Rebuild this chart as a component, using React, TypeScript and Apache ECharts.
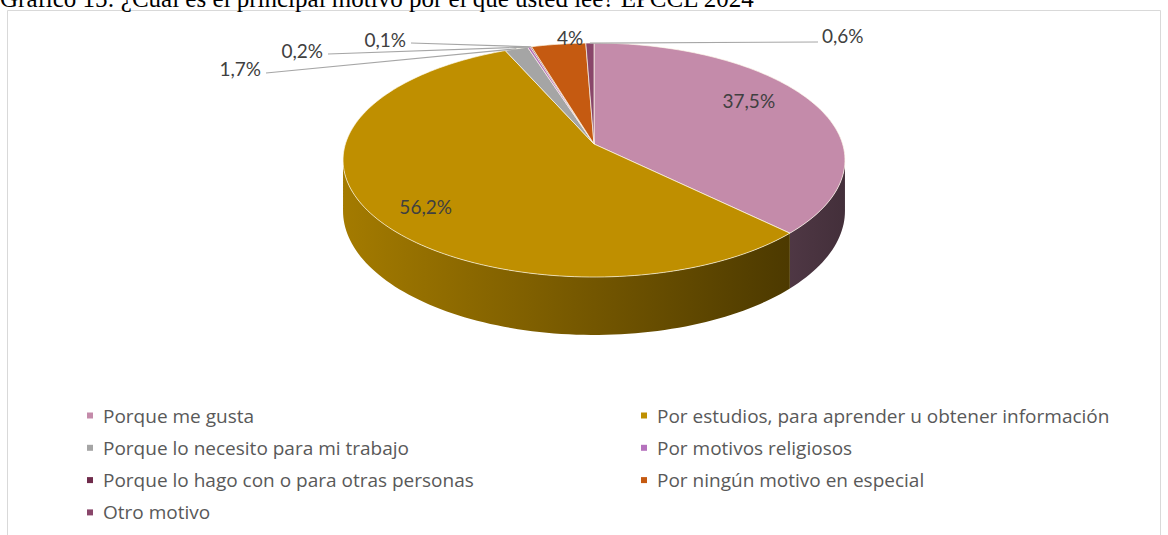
import React, { useEffect, useRef } from "react";
import * as echarts from "echarts";

// ---- data ----
const CATEGORIES = [
  "Porque me gusta",
  "Por estudios, para aprender u obtener información",
  "Porque lo necesito para mi trabajo",
  "Por motivos religiosos",
  "Porque lo hago con o para otras personas",
  "Por ningún motivo en especial",
  "Otro motivo",
];
const VALUES = [37.5, 56.2, 1.7, 0.2, 0.1, 4, 0.6];
const LABELS = ["37,5%", "56,2%", "1,7%", "0,2%", "0,1%", "4%", "0,6%"];
const COLORS = ["#C48BAA", "#BF8F00", "#A5A5A5", "#B572BD", "#6F2B4B", "#C55A11", "#89466A"];
const TITLE = "Gráfico 15: ¿Cuál es el principal motivo por el que usted lee? EPCCL 2024";
const LEGEND_LEFT = [0, 2, 4, 6];
const LEGEND_RIGHT = [1, 3, 5];

// ---- layout (not data) ----
const CX = 594;
const CY = 144;
const RX = 248.6;
const RY = 114.8;
const PERSP = 0.137;
const DEPTH = 50;
const FRONT_L = (Math.acos(-PERSP) * 180) / Math.PI;
const FRONT_R = 360 - FRONT_L;

// label placement relative to the pie centre
const LABEL_LAYOUT: any[] = [
  { mode: "inside", r: 0.7, dx: 0, dy: -14 },
  { mode: "inside", r: 0.79, dx: 4, dy: 8 },
  { mode: "left", ex: -328, ey: -71, ty: -5 },
  { mode: "left", ex: -266, ey: -90, ty: -4 },
  { mode: "left", ex: -183, ey: -101, ty: -4 },
  { mode: "top", ex: -24, ey: -107, ty: 0 },
  { mode: "right", ex: 224, ey: -102, ty: -7 },
];

const TOTAL = VALUES.reduce((a, b) => a + b, 0);
const STARTS = VALUES.map((_, i) => (VALUES.slice(0, i).reduce((a, b) => a + b, 0) / TOTAL) * 360);

function proj(r: number, deg: number, dz = 0): [number, number] {
  const t = (deg * Math.PI) / 180;
  const u = Math.sin(t);
  const v = -Math.cos(t);
  const f = 1 / (1 - PERSP * r * v);
  return [CX + RX * r * u * f, CY + RY * r * v * f + dz * f];
}

function shade(hex: string, k: number) {
  const n = parseInt(hex.slice(1), 16);
  const r = Math.round(((n >> 16) & 255) * k);
  const g = Math.round(((n >> 8) & 255) * k);
  const b = Math.round((n & 255) * k);
  return `rgb(${r},${g},${b})`;
}

function arcPoints(a0: number, a1: number, dz = 0) {
  const n = Math.max(2, Math.ceil((a1 - a0) / 1.5) + 1);
  const pts: [number, number][] = [];
  for (let k = 0; k < n; k++) {
    pts.push(proj(1, a0 + ((a1 - a0) * k) / (n - 1), dz));
  }
  return pts;
}

function renderItem(params: any, api: any) {
  const i = params.dataIndex;
  const val = api.value(0);
  const a0 = STARTS[i];
  const a1 = a0 + (val / TOTAL) * 360;
  const color = COLORS[i];
  const children: any[] = [];

  const s0 = Math.max(a0, FRONT_L);
  const s1 = Math.min(a1, FRONT_R);
  if (s1 > s0) {
    const top = arcPoints(s0, s1, 0);
    const bot = arcPoints(s0, s1, DEPTH).reverse();
    children.push({
      type: "polygon",
      z2: 1,
      shape: { points: top.concat(bot) },
      style: {
        fill: new echarts.graphic.LinearGradient(
          CX - RX - 4, 0, CX + RX + 4, 0,
          [
            { offset: 0, color: shade(color, 0.86) },
            { offset: 0.5, color: shade(color, 0.6) },
            { offset: 1, color: shade(color, 0.34) },
          ],
          true
        ),
        stroke: "none",
      },
    });
  }

  const face = [[CX, CY] as [number, number]].concat(arcPoints(a0, a1, 0));
  children.push({
    type: "polygon",
    z2: 2,
    shape: { points: face },
    style: { fill: color, stroke: "rgba(255,250,235,0.85)", lineWidth: 0.8, lineJoin: "round" },
  });

  const L = LABEL_LAYOUT[i];
  const font = '19px "Lato"';
  const mid = (a0 + a1) / 2;
  if (L.mode === "inside") {
    const p = proj(L.r, mid, 0);
    children.push({
      type: "text",
      z2: 6,
      x: p[0] + L.dx,
      y: p[1] + L.dy,
      style: { text: LABELS[i], fill: "#404040", font, align: "center", verticalAlign: "middle" },
    });
  } else {
    const rim = proj(1, mid, 0);
    const ex = CX + L.ex;
    const ey = CY + L.ey;
    if (L.mode !== "top") {
      children.push({
        type: "line",
        z2: 4,
        shape: { x1: rim[0], y1: rim[1], x2: ex, y2: ey },
        style: { stroke: "#A6A6A6", lineWidth: 1.2 },
      });
    }
    const tx = L.mode === "left" ? ex - 5 : L.mode === "right" ? ex + 4 : ex;
    const ty = ey + L.ty;
    children.push({
      type: "text",
      z2: 6,
      x: tx,
      y: ty,
      style: {
        text: LABELS[i],
        fill: "#404040",
        font,
        align: L.mode === "left" ? "right" : L.mode === "right" ? "left" : "center",
        verticalAlign: "middle",
      },
    });
  }
  return { type: "group", children };
}

export default function App() {
  const ref = useRef<HTMLDivElement>(null);
  useEffect(() => {
    if (!ref.current) return;
    const chart = echarts.init(ref.current, undefined, { renderer: "svg" });
    const legendText = {
      fontFamily: "Open Sans",
      fontSize: 19,
      lineHeight: 18,
      color: "#595959",
      padding: [0, 0, 0, 5],
    };
    const legendBase = {
      orient: "vertical",
      top: 406,
      padding: 0,
      itemGap: 13.3,
      itemWidth: 6,
      itemHeight: 6,
      icon: "rect",
      selectedMode: false,
      textStyle: legendText,
    };
    chart.setOption({
      animation: false,
      color: COLORS,
      graphic: [
        {
          type: "rect",
          silent: true,
          shape: { x: 7.5, y: 10.5, width: 1153, height: 600 },
          style: { fill: "#FFFFFF", stroke: "#D9D9D9", lineWidth: 1 },
          z: -10,
        },
        {
          type: "text",
          silent: true,
          x: 0,
          y: -1.5,
          style: {
            text: TITLE,
            font: '25px "Liberation Serif"',
            fill: "#000000",
            align: "left",
            verticalAlign: "middle",
          },
          z: 10,
        },
      ],
      legend: [
        { ...legendBase, left: 87, data: LEGEND_LEFT.map((i) => CATEGORIES[i]) },
        { ...legendBase, left: 641, data: LEGEND_RIGHT.map((i) => CATEGORIES[i]) },
      ],
      series: [
        {
          type: "pie",
          silent: true,
          center: [-50, -50],
          radius: 1,
          label: { show: false },
          labelLine: { show: false },
          data: CATEGORIES.map((name, i) => ({ name, value: VALUES[i] })),
        },
        {
          type: "custom",
          coordinateSystem: "none",
          silent: true,
          renderItem,
          data: VALUES.map((v) => [v]),
        },
      ],
    });
    return () => chart.dispose();
  }, []);
  return (
    <div
      ref={ref}
      style={{ position: "fixed", left: 0, top: 0, width: 1168, height: 535, background: "#fff" }}
    />
  );
}
